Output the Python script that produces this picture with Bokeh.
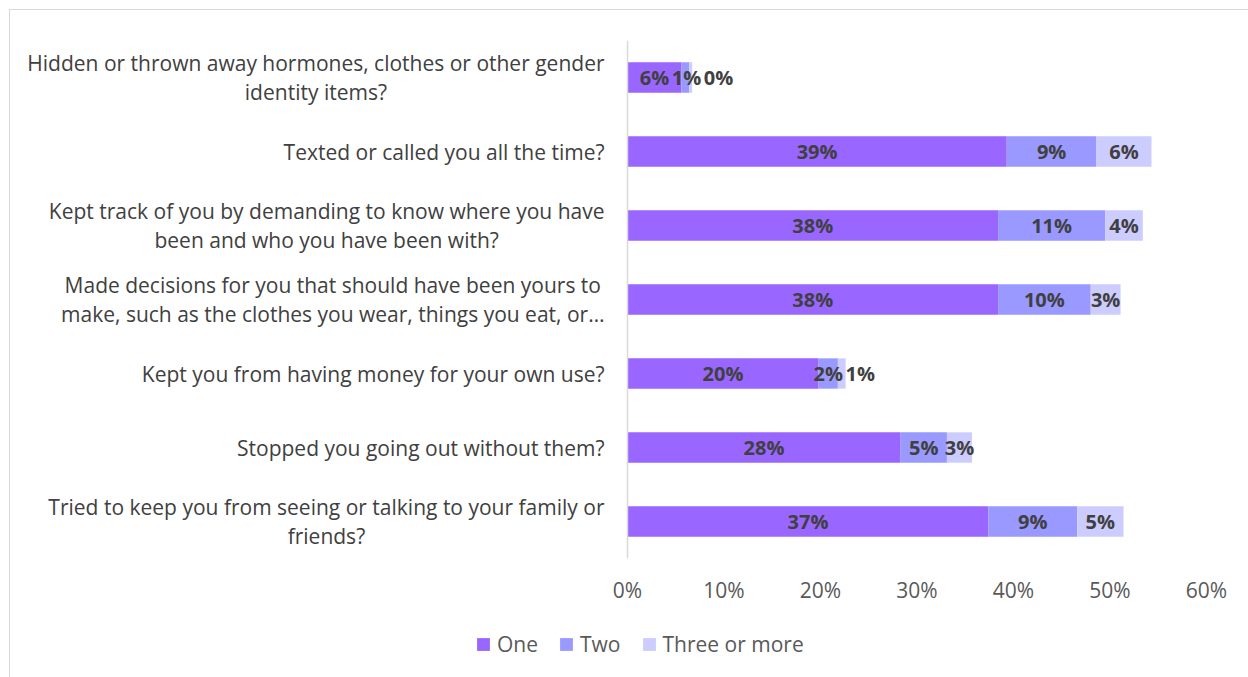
import glob, os, struct, subprocess
from bokeh.plotting import figure
from bokeh.layouts import column
from bokeh.models import ColumnDataSource, FactorRange, Range1d, Legend, LegendItem, FixedTicker, PrintfTickFormatter, Span
from bokeh.core.properties import value
from bokeh.embed import file_html
from bokeh.resources import INLINE

categories = [
    "Hidden or thrown away hormones, clothes or other gender\nidentity items?",
    "Texted or called you all the time?",
    "Kept track of you by demanding to know where you have\nbeen and who you have been with?",
    "Made decisions for you that should have been yours to\nmake, such as the clothes you wear, things you eat, or\u2026",
    "Kept you from having money for your own use?",
    "Stopped you going out without them?",
    "Tried to keep you from seeing or talking to your family or\nfriends?",
]
one = [5.6, 39.3, 38.4, 38.4, 19.8, 28.3, 37.4]
two = [0.8, 9.3, 11.1, 9.6, 2.0, 4.8, 9.2]
three = [0.3, 5.7, 3.9, 3.1, 0.8, 2.6, 4.8]
series_names = ["One", "Two", "Three or more"]
series_keys = ["one", "two", "three"]
colors = ["#9966FF", "#9999FF", "#CCCCFF"]
x_ticks = [0, 10, 20, 30, 40, 50, 60]

FONT = "Open Sans"
CAT_SIZE = 21
W = 1238
H1, H2 = 610, 57
MT, MB, MR = 30, 62, 42
ZERO_PX = 617          # distance from frame left to the 0% line
LABEL_GAP = 23


# ---------- text width measurement (for centring multi-line category labels) ----------
def _font_path():
    try:
        out = subprocess.run(["fc-match", "-f", "%{file}", "Open Sans:regular"],
                             capture_output=True, text=True, timeout=5).stdout.strip()
        if out and os.path.exists(out) and "OpenSans" in os.path.basename(out).replace(" ", ""):
            return out
    except Exception:
        pass
    cands = []
    for d in ["/usr/share/fonts", "/usr/local/share/fonts", os.path.expanduser("~/.fonts"),
              os.path.expanduser("~/.local/share/fonts")]:
        cands += glob.glob(os.path.join(d, "**", "OpenSans*.ttf"), recursive=True)
    cands = [c for c in cands if "Italic" not in c and "Bold" not in c and "Semi" not in c
             and "Light" not in c and "Extra" not in c and "Condensed" not in c]
    cands.sort(key=lambda c: (0 if "Regular" in c else 1, len(c)))
    return cands[0] if cands else None


def _make_width_fn():
    path = _font_path()
    data = open(path, "rb").read()
    ntab = struct.unpack(">H", data[4:6])[0]
    tables = {}
    for i in range(ntab):
        tag, _, off, ln = struct.unpack(">4sIII", data[12 + 16 * i:28 + 16 * i])
        tables[tag.decode("latin1")] = off
    upem = struct.unpack(">H", data[tables["head"] + 18:tables["head"] + 20])[0]
    nhm = struct.unpack(">H", data[tables["hhea"] + 34:tables["hhea"] + 36])[0]
    hm = tables["hmtx"]
    adv = [struct.unpack(">H", data[hm + 4 * i:hm + 4 * i + 2])[0] for i in range(nhm)]
    cm = tables["cmap"]
    n = struct.unpack(">H", data[cm + 2:cm + 4])[0]
    sub = None
    for i in range(n):
        pid, eid, off = struct.unpack(">HHI", data[cm + 4 + 8 * i:cm + 12 + 8 * i])
        if struct.unpack(">H", data[cm + off:cm + off + 2])[0] == 4:
            sub = cm + off
            break
    segx2 = struct.unpack(">H", data[sub + 6:sub + 8])[0]
    segs = segx2 // 2
    ends = struct.unpack(">%dH" % segs, data[sub + 14:sub + 14 + segx2])
    starts = struct.unpack(">%dH" % segs, data[sub + 16 + segx2:sub + 16 + 2 * segx2])
    deltas = struct.unpack(">%dh" % segs, data[sub + 16 + 2 * segx2:sub + 16 + 3 * segx2])
    rpos = sub + 16 + 3 * segx2
    roffs = struct.unpack(">%dH" % segs, data[rpos:rpos + segx2])

    def gid(c):
        for k in range(segs):
            if ends[k] >= c:
                if starts[k] > c:
                    return 0
                if roffs[k] == 0:
                    return (c + deltas[k]) & 0xFFFF
                a = rpos + 2 * k + roffs[k] + 2 * (c - starts[k])
                g = struct.unpack(">H", data[a:a + 2])[0]
                return (g + deltas[k]) & 0xFFFF if g else 0
        return 0

    def width(s, size):
        return sum(adv[min(gid(ord(ch)), nhm - 1)] for ch in s) * size / upem
    return width


try:
    text_width = _make_width_fn()
except Exception:
    text_width = lambda s, size: 0.49 * size * len(s)

# ---------- main chart ----------
px_per_unit = (W - MR - ZERO_PX) / (x_ticks[-1] - x_ticks[0])
x_start = -ZERO_PX / px_per_unit

source = ColumnDataSource(dict(cat=categories, one=one, two=two, three=three))

p = figure(width=W, height=H1, output_backend="svg", toolbar_location=None,
           y_range=FactorRange(factors=categories[::-1], range_padding=0, factor_padding=0),
           x_range=Range1d(x_start, x_ticks[-1]), y_axis_location=None,
           min_border_left=0, min_border_right=MR, min_border_top=MT, min_border_bottom=MB)
p.outline_line_color = None
p.xgrid.grid_line_color = None
p.ygrid.grid_line_color = None

rs = p.hbar_stack(series_keys, y="cat", height=0.41, fill_color=colors, line_color=None, source=source)

# vertical category axis line at 0
p.add_layout(Span(location=0, dimension="height", line_color="#D9D9D9", line_width=1.5))

# category labels: block right-aligned, lines centred
cx_off = []
for c in categories:
    wblock = max(text_width(line, CAT_SIZE) for line in c.split("\n"))
    cx_off.append(-(LABEL_GAP + wblock / 2))
csrc = ColumnDataSource(dict(x=[0] * len(categories), y=categories, t=categories, o=cx_off))
p.text(x="x", y="y", text="t", x_offset="o", source=csrc, text_align="center", text_baseline="middle",
       text_line_height=1.02, text_font=value(FONT), text_font_size="%dpx" % CAT_SIZE, text_color="#404040")

# data labels
lx, ly, lt, lo = [], [], [], []
for i, c in enumerate(categories):
    start = 0.0
    prev_right = None
    for vals in (one, two, three):
        v = vals[i]
        txt = "%d%%" % round(v)
        w = 11 * (len(txt) - 1) + 18
        cx = start + v / 2
        cpx = cx * px_per_unit
        off = 0.0
        if prev_right is not None and cpx - w / 2 < prev_right + 3:
            off = prev_right + 3 + w / 2 - cpx
        prev_right = cpx + off + w / 2
        lx.append(cx); ly.append(c); lt.append(txt); lo.append(off)
        start += v
lsrc = ColumnDataSource(dict(x=lx, y=ly, t=lt, o=lo))
p.text(x="x", y="y", text="t", x_offset="o", source=lsrc, text_align="center", text_baseline="middle",
       text_font=value(FONT), text_font_style="bold", text_font_size="20px", text_color="#404040")

p.xaxis.ticker = FixedTicker(ticks=x_ticks)
p.xaxis.formatter = PrintfTickFormatter(format="%d%%")
p.xaxis.axis_line_color = None
p.xaxis.major_tick_line_color = None
p.xaxis.minor_tick_line_color = None
p.xaxis.major_label_standoff = 11
p.xaxis.major_label_text_font = FONT
p.xaxis.major_label_text_font_size = "21px"
p.xaxis.major_label_text_color = "#595959"

# ---------- legend strip ----------
p2 = figure(width=W, height=H2, output_backend="svg", toolbar_location=None,
            x_range=Range1d(0, 1), y_range=Range1d(0, 1), x_axis_location=None, y_axis_location=None,
            min_border_left=0, min_border_right=0, min_border_top=0, min_border_bottom=0)
p2.outline_line_color = None
p2.xgrid.grid_line_color = None
p2.ygrid.grid_line_color = None
# legend proxies: zero-width bars (draw nothing themselves)
lr = [p2.hbar(y=[0.5], left=[0], right=[0], height=0.0, fill_color=c, line_color=None) for c in colors]
legend = Legend(items=[LegendItem(label=n, renderers=[r]) for n, r in zip(series_names, lr)],
                orientation="horizontal", location=(465, 19),
                glyph_width=16, glyph_height=16, label_standoff=6, spacing=20,
                padding=0, margin=0, border_line_color=None, background_fill_alpha=0,
                label_text_font=FONT, label_text_font_size="21px", label_text_color="#595959")
p2.add_layout(legend, "center")

layout = column(p, p2, spacing=0)
layout.styles = {"margin-left": "9px", "margin-top": "9px",
                 "border-top": "1px solid #d9d9d9", "border-left": "1px solid #d9d9d9"}

open("out.html", "w").write(file_html(layout, INLINE))
